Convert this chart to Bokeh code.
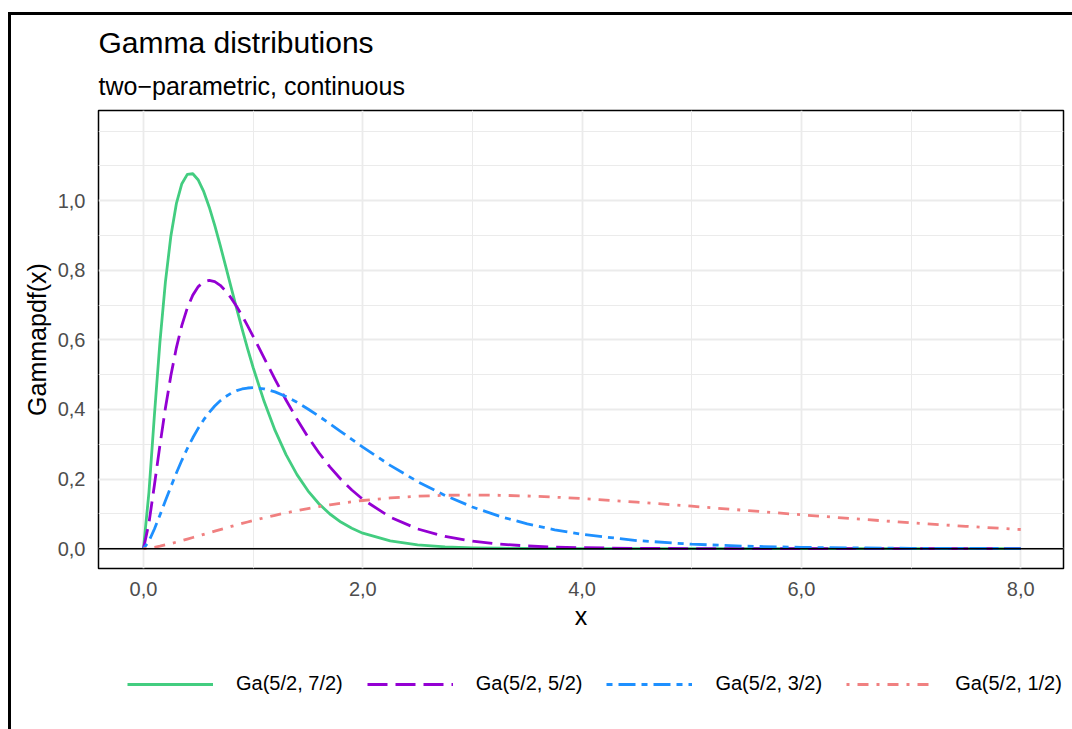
from bokeh.plotting import figure
from bokeh.layouts import column
from bokeh.models import (Legend, LegendItem, Title, Span, FixedTicker,
                          CustomJSTickFormatter, Range1d)
from bokeh.embed import file_html
from bokeh.resources import INLINE

# ---- data ----
x_vals = [0, 0.05, 0.1, 0.15, 0.2, 0.25, 0.3, 0.35, 0.4, 0.45, 0.5,
          0.55, 0.6, 0.65, 0.7, 0.75, 0.8, 0.85, 0.9, 0.95, 1.0,
          1.1, 1.2, 1.3, 1.4, 1.5, 1.6, 1.7, 1.8, 1.9, 2.0,
          2.25, 2.5, 2.75, 3.0, 3.25, 3.5, 3.75, 4.0,
          4.5, 5.0, 5.5, 6.0, 6.5, 7.0, 7.5, 8.0]
ga_7_2 = [0, 0.1618, 0.3842, 0.5925, 0.7657, 0.8983, 0.9913, 1.0486, 1.0755,
          1.0773, 1.0592, 1.0258, 0.9812, 0.9287, 0.8713, 0.8112, 0.7501,
          0.6897, 0.6308, 0.5742, 0.5206, 0.4233, 0.3398, 0.2700, 0.2127,
          0.1662, 0.1290, 0.0996, 0.0764, 0.0584, 0.0445, 0.0221, 0.0108,
          0.0052, 0.0025, 0.0012, 0.0005, 0.0003, 0.0001,
          0, 0, 0, 0, 0, 0, 0, 0]
ga_5_2 = [0, 0.0733, 0.1831, 0.2968, 0.4033, 0.4974, 0.5770, 0.6417, 0.6919,
          0.7285, 0.7530, 0.7667, 0.7709, 0.7671, 0.7566, 0.7405, 0.7199,
          0.6958, 0.6690, 0.6403, 0.6102, 0.5483, 0.4865, 0.4272, 0.3719,
          0.3212, 0.2756, 0.2350, 0.1994, 0.1684, 0.1417, 0.0905, 0.0567,
          0.0350, 0.0214, 0.0129, 0.0077, 0.0046, 0.0027,
          0.0009, 0.0003, 0.0001, 0, 0, 0, 0, 0]
ga_3_2 = [0, 0.0215, 0.0564, 0.0962, 0.1374, 0.1781, 0.2172, 0.2539, 0.2878,
          0.3186, 0.3462, 0.3706, 0.3917, 0.4098, 0.4249, 0.4371, 0.4468,
          0.4540, 0.4588, 0.4616, 0.4626, 0.4593, 0.4504, 0.4372, 0.4205,
          0.4014, 0.3806, 0.3588, 0.3364, 0.3140, 0.2919, 0.2394, 0.1927,
          0.1528, 0.1197, 0.0927, 0.0712, 0.0543, 0.0411,
          0.0232, 0.0128, 0.0070, 0.0037, 0.0020, 0.0011, 0.0006, 0.0003]
ga_1_2 = [0, 0.0015, 0.0040, 0.0072, 0.0108, 0.0147, 0.0188, 0.0231, 0.0275,
          0.0321, 0.0366, 0.0412, 0.0458, 0.0504, 0.0549, 0.0594, 0.0638,
          0.0681, 0.0724, 0.0766, 0.0807, 0.0885, 0.0959, 0.1029, 0.1094,
          0.1154, 0.1209, 0.1260, 0.1306, 0.1347, 0.1384, 0.1457, 0.1506,
          0.1533, 0.1542, 0.1534, 0.1513, 0.1481, 0.1440,
          0.1338, 0.1220, 0.1097, 0.0973, 0.0855, 0.0744, 0.0642, 0.0551]
series_labels = ["Ga(5/2, 7/2)", "Ga(5/2, 5/2)", "Ga(5/2, 3/2)", "Ga(5/2, 1/2)"]
x_ticks = [0, 2, 4, 6, 8]
x_minor = [1, 3, 5, 7]
y_ticks = [0, 0.2, 0.4, 0.6, 0.8, 1.0]
y_minor = [0.1, 0.3, 0.5, 0.7, 0.9, 1.1, 1.2]

FONT = "Liberation Sans"
colors = ["#43CD80", "#9400D3", "#1E90FF", "#F08080"]
dashes = ["solid", "20 8", "6 6 17 6", "3 8 11 8"]
LW = 2.8
ys = [ga_7_2, ga_5_2, ga_3_2, ga_1_2]

p = figure(width=1061, height=635, output_backend="svg", toolbar_location=None,
           title=None,
           x_range=Range1d(-0.41, 8.39), y_range=Range1d(-0.057, 1.259),
           min_border_left=87, min_border_right=9, min_border_top=95,
           min_border_bottom=82, background_fill_color="white",
           border_fill_color="white")

# grid
for g in (p.xgrid, p.ygrid):
    g.grid_line_color = "#EBEBEB"
    g.grid_line_width = 1.8
    g.minor_grid_line_color = "#EBEBEB"
    g.minor_grid_line_width = 1.0
p.outline_line_color = "black"
p.outline_line_width = 1.5

# axes
p.xaxis.ticker = FixedTicker(ticks=x_ticks, minor_ticks=x_minor)
p.yaxis.ticker = FixedTicker(ticks=y_ticks, minor_ticks=y_minor)
fmt = "return tick.toFixed(1).replace('.', ',')"
p.xaxis.formatter = CustomJSTickFormatter(code=fmt)
p.yaxis.formatter = CustomJSTickFormatter(code=fmt)
for ax in (p.xaxis[0], p.yaxis[0]):
    ax.axis_line_color = None
    ax.major_tick_line_color = None
    ax.minor_tick_line_color = None
    ax.major_tick_out = 0
    ax.major_tick_in = 0
    ax.major_label_text_font = FONT
    ax.major_label_text_font_size = "20px"
    ax.major_label_text_color = "#4D4D4D"
    ax.axis_label_text_font = FONT
    ax.axis_label_text_font_size = "25px"
    ax.axis_label_text_font_style = "normal"
    ax.axis_label_text_color = "black"
p.xaxis.axis_label = "x"
p.yaxis.axis_label = "Gammapdf(x)"
p.xaxis.major_label_standoff = 9
p.yaxis.major_label_standoff = 9
p.xaxis.axis_label_standoff = 3
p.yaxis.axis_label_standoff = 4

# zero line
p.add_layout(Span(location=0, dimension="width", line_color="black",
                  line_width=1.5))

# curves
for y, c, d in zip(ys, colors, dashes):
    p.line(x_vals, y, line_color=c, line_width=LW, line_dash=d,
           line_join="round")

# titles (subtitle first = closest to plot)
p.add_layout(Title(text="two\u2212parametric, continuous", text_font=FONT,
                   text_font_size="25px", text_font_style="normal",
                   text_color="black", align="left", standoff=22), "above")
p.add_layout(Title(text="Gamma distributions", text_font=FONT,
                   text_font_size="30px", text_font_style="normal",
                   text_color="black", align="left", standoff=0), "above")

# legend strip below the plot (its key renderers lie outside its y-range)
p2 = figure(width=1061, height=79, output_backend="svg", toolbar_location=None,
            x_axis_type=None, y_axis_type=None, min_border=0,
            x_range=Range1d(-0.41, 8.39), y_range=Range1d(100, 101),
            outline_line_color=None, background_fill_color="white",
            border_fill_color="white")
items = []
for y, c, d, lab in zip(ys, colors, dashes, series_labels):
    r = p2.line(x_vals, y, line_color=c, line_width=LW, line_dash=d)
    items.append(LegendItem(label=lab, renderers=[r]))
legend = Legend(items=items, orientation="horizontal", location=(29, 34),
                glyph_width=86, glyph_height=20, label_standoff=23,
                spacing=24, padding=0, margin=0,
                label_text_font=FONT, label_text_font_size="20px",
                label_text_color="black", border_line_color=None,
                background_fill_alpha=0)
p2.add_layout(legend, "center")

layout = column(p, p2, spacing=0)
layout.styles = {"margin-top": "12px", "margin-left": "8px",
                 "border-top": "3px solid black",
                 "border-left": "3px solid black"}

open("out.html", "w").write(file_html(layout, INLINE))
